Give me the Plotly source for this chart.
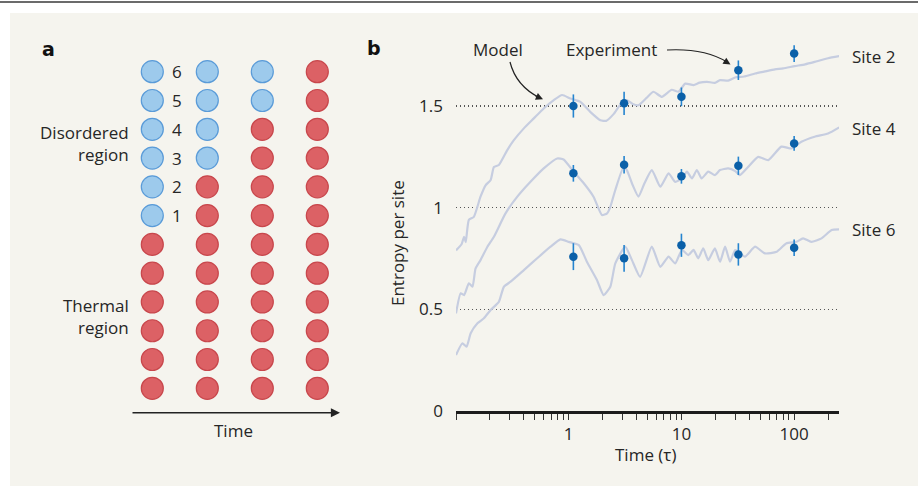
import math
import plotly.graph_objects as go

W, H = 918, 486
FONT = "Open Sans"
TXT = "#262626"

# ---------------- Panel a data ----------------
col_disordered = [6, 4, 2, 0]      # number of disordered sites per time step
n_sites = 6
n_thermal = 6
site_numbers = [1, 2, 3, 4, 5, 6]

# ---------------- Panel b data ----------------
exp_time = [1.1, 3.1, 10, 32, 100]
exp_site2 = [1.50, 1.513, 1.545, 1.676, 1.758]
exp_site2_err = [0.057, 0.057, 0.046, 0.048, 0.041]
exp_site4 = [1.169, 1.211, 1.154, 1.206, 1.316]
exp_site4_err = [0.041, 0.043, 0.036, 0.045, 0.036]
exp_site6 = [0.759, 0.751, 0.815, 0.770, 0.803]
exp_site6_err = [0.066, 0.066, 0.057, 0.055, 0.041]

model_site2_t = [0.1, 0.112, 0.118, 0.122, 0.13, 0.144, 0.165, 0.183, 0.203, 0.217, 0.24, 0.285, 0.326,
                 0.40, 0.49, 0.60, 0.737, 0.874, 1.035, 1.27, 1.56, 1.91, 2.15, 2.5, 2.9, 3.28, 3.7, 4.16,
                 4.9, 5.65, 6.7, 8.2, 9.4, 10.8, 12.8, 14.5, 16.8, 19.8, 22, 26, 29.9, 36, 45, 55, 67.5,
                 80, 101, 125, 152, 200, 251]
model_site2_y = [0.79, 0.82, 0.857, 0.83, 0.94, 0.955, 1.054, 1.11, 1.136, 1.20, 1.21, 1.283, 1.332,
                 1.39, 1.439, 1.488, 1.529, 1.554, 1.537, 1.52, 1.47, 1.43, 1.427, 1.46, 1.51, 1.529, 1.51,
                 1.504, 1.54, 1.57, 1.545, 1.58, 1.57, 1.61, 1.603, 1.615, 1.619, 1.614, 1.627, 1.625,
                 1.64, 1.645, 1.66, 1.67, 1.68, 1.685, 1.696, 1.705, 1.717, 1.735, 1.745]

model_site4_t = [0.1, 0.11, 0.118, 0.13, 0.14, 0.149, 0.165, 0.19, 0.217, 0.275, 0.35, 0.458, 0.6, 0.79,
                 0.90, 1.107, 1.36, 1.66, 1.97, 2.19, 2.34, 2.59, 3.07, 3.28, 3.7, 4.16, 4.7, 5.46, 6.5,
                 7.69, 8.8, 10.1, 11.2, 12.4, 13.7, 15.1, 17.3, 19.8, 22, 26, 30, 33, 39, 48, 59, 77,
                 95, 116, 152, 200, 251]
model_site4_y = [0.48, 0.579, 0.57, 0.628, 0.611, 0.70, 0.742, 0.808, 0.857, 0.972, 1.054, 1.127, 1.193,
                 1.242, 1.237, 1.177, 1.12, 1.054, 0.964, 0.972, 1.004, 1.087, 1.2, 1.185, 1.11, 1.054,
                 1.12, 1.185, 1.103, 1.169, 1.127, 1.144, 1.177, 1.144, 1.185, 1.144, 1.177, 1.16, 1.185,
                 1.193, 1.18, 1.16, 1.2, 1.25, 1.234, 1.30, 1.291, 1.324, 1.349, 1.365, 1.395]

model_site6_t = [0.1, 0.114, 0.124, 0.135, 0.155, 0.177, 0.203, 0.24, 0.266, 0.305, 0.40, 0.525, 0.69,
                 0.845, 1.0, 1.23, 1.45, 1.78, 2.04, 2.34, 2.59, 3.17, 3.64, 4.3, 5.46, 6.5, 7.69, 8.8,
                 10.1, 11.5, 12.8, 14.1, 15.6, 17.3, 19.8, 22, 24.4, 27, 30, 36.6, 45, 55, 70, 85, 105,
                 120, 142, 175, 215, 251]
model_site6_y = [0.275, 0.333, 0.316, 0.382, 0.431, 0.456, 0.497, 0.537, 0.611, 0.636, 0.693, 0.751,
                 0.808, 0.844, 0.832, 0.816, 0.734, 0.644, 0.57, 0.611, 0.726, 0.808, 0.742, 0.66, 0.808,
                 0.709, 0.759, 0.726, 0.792, 0.767, 0.792, 0.751, 0.80, 0.742, 0.80, 0.734, 0.808, 0.734,
                 0.792, 0.759, 0.808, 0.775, 0.783, 0.824, 0.832, 0.849, 0.832, 0.849, 0.89, 0.893]

site_labels = ["Site 2", "Site 4", "Site 6"]
y_tickvals = [0, 0.5, 1, 1.5]
y_ticktext = ["0", "0.5", "1", "1.5"]
x_major = [1, 10, 100]
x_major_text = ["1", "10", "100"]


def px(x):
    return x / W


def py(y):
    return 1 - y / H


fig = go.Figure()

# ---------- Panel a : circles ----------
BLUE_F, BLUE_L = "#9dcaec", "#5a9bd8"
RED_F, RED_L = "#dc6165", "#c8474c"
cx, cy, cf, cl = [], [], [], []
for c, nd in enumerate(col_disordered):
    for r in range(n_thermal + n_sites):
        cx.append(c)
        cy.append(r)
        site = r - n_thermal + 1
        blue = site >= 1 and site > n_sites - nd
        cf.append(BLUE_F if blue else RED_F)
        cl.append(BLUE_L if blue else RED_L)
fig.add_trace(go.Scatter(x=cx, y=cy, mode="markers", xaxis="x2", yaxis="y2",
                         marker=dict(size=22, color=cf, line=dict(color=cl, width=1.2)),
                         showlegend=False, hoverinfo="skip"))

# ---------- Panel b : model curves ----------
MODEL_C = "#c6cde0"
for t, y in [(model_site2_t, model_site2_y), (model_site4_t, model_site4_y),
             (model_site6_t, model_site6_y)]:
    fig.add_trace(go.Scatter(x=t, y=y, mode="lines", line=dict(color=MODEL_C, width=2.2,
                                                               shape="spline", smoothing=0.5),
                             showlegend=False, hoverinfo="skip"))

# ---------- Panel b : experiment ----------
for y, e in [(exp_site2, exp_site2_err), (exp_site4, exp_site4_err), (exp_site6, exp_site6_err)]:
    fig.add_trace(go.Scatter(x=exp_time, y=y, mode="markers",
                             marker=dict(size=8.5, color="#0b60a8"),
                             error_y=dict(type="data", array=e, color="#2584cf", thickness=1.6, width=0),
                             showlegend=False, hoverinfo="skip"))

# x ticks: log minor ticks at every integer multiple
tickvals, ticktext = [], []
for dec in [0.1, 1, 10, 100]:
    for k in range(1, 10):
        v = round(dec * k, 6)
        if v > 250:
            break
        tickvals.append(v)
        ticktext.append(x_major_text[x_major.index(v)] if v in x_major else "")

Y_TOP = 35
Y0 = 411
y_span = 1.5 / (Y0 - 106)  # data per pixel

fig.update_layout(
    width=W, height=H, margin=dict(l=0, r=0, t=0, b=0),
    paper_bgcolor="white", plot_bgcolor="rgba(0,0,0,0)",
    font=dict(family=FONT, size=17, color=TXT),
    hovermode=False,
    xaxis=dict(type="log", domain=[px(456), px(839)], range=[-1, math.log10(250)],
               showline=True, linecolor="#1c1c1c", linewidth=3, ticks="outside", ticklen=6,
               tickwidth=1, tickcolor="#333", tickvals=tickvals, ticktext=ticktext,
               showgrid=False, zeroline=False, tickfont=dict(size=17, color=TXT), anchor="y",
               automargin=False),
    yaxis=dict(domain=[py(Y0), py(Y_TOP)], range=[0, (Y0 - Y_TOP) * y_span],
               showgrid=True, griddash="1.4px,2.6px", gridcolor="#555", gridwidth=1.2,
               tickvals=y_tickvals, ticktext=y_ticktext, ticks="", showline=False, zeroline=False,
               tickfont=dict(size=17, color=TXT), ticklabelstandoff=12, anchor="x",
               automargin=False),
    xaxis2=dict(domain=[px(130), px(340)], range=[(130 - 152.3) / 55, (340 - 152.3) / 55],
                visible=False, anchor="y2"),
    yaxis2=dict(domain=[py(405), py(55)], range=[(388.3 - 405) / 28.78, (388.3 - 55) / 28.78],
                visible=False, anchor="x2"),
)

shapes = [
    dict(type="rect", xref="paper", yref="paper", x0=px(10), x1=1, y0=0, y1=py(13),
         fillcolor="#f5f4ee", line=dict(width=0), layer="below"),
    dict(type="line", xref="paper", yref="paper", x0=0, x1=1, y0=py(2), y1=py(2),
         line=dict(color="#3a3a3a", width=1.5)),
    dict(type="path", xref="paper", yref="paper",
         path=f"M {px(510)},{py(62)} Q {px(516)},{py(86)} {px(540)},{py(98)}",
         line=dict(color="#222", width=1.2)),
    dict(type="path", xref="paper", yref="paper",
         path=f"M {px(667)},{py(50)} Q {px(704)},{py(48)} {px(727)},{py(62)}",
         line=dict(color="#222", width=1.2)),
]
fig.update_layout(shapes=shapes)

ann = []
# panel letters
ann.append(dict(text="<b>a</b>", x=px(40), y=py(49), xref="paper", yref="paper", showarrow=False,
                xanchor="left", yanchor="middle", font=dict(family="DejaVu Sans", size=19, color="#111")))
ann.append(dict(text="<b>b</b>", x=px(365), y=py(48), xref="paper", yref="paper", showarrow=False,
                xanchor="left", yanchor="middle", font=dict(family="DejaVu Sans", size=19, color="#111")))
# site numbers in panel a
for s in site_numbers:
    ann.append(dict(text=str(s), x=0.32, y=n_thermal + s - 1, xref="x2", yref="y2", showarrow=False,
                    xanchor="left", yanchor="middle"))
ann.append(dict(text="Disordered<br>region", x=px(131), y=n_thermal + 2.5, xref="paper", yref="y2",
                showarrow=False, xanchor="right", yanchor="middle", align="right"))
ann.append(dict(text="Thermal<br>region", x=px(131), y=(n_thermal - 1) / 2, xref="paper", yref="y2",
                showarrow=False, xanchor="right", yanchor="middle", align="right"))
# time arrow panel a
ann.append(dict(text="", x=px(340), y=py(412.7), xref="paper", yref="paper", ax=-209, ay=0,
                showarrow=True, arrowhead=2, arrowsize=1.3, arrowwidth=1.4, arrowcolor="#222"))
ann.append(dict(text="Time", x=px(233), y=py(430), xref="paper", yref="paper", showarrow=False,
                xanchor="center", yanchor="middle"))
# panel b titles
ann.append(dict(text="Entropy per site", x=px(397), y=py(243), xref="paper", yref="paper",
                showarrow=False, textangle=-90, xanchor="center", yanchor="middle"))
ann.append(dict(text="Time (τ)", x=px(645), y=py(454), xref="paper", yref="paper", showarrow=False,
                xanchor="center", yanchor="middle"))
ann.append(dict(text="Model", x=px(498), y=py(49), xref="paper", yref="paper", showarrow=False,
                xanchor="center", yanchor="middle"))
ann.append(dict(text="Experiment", x=px(611), y=py(49), xref="paper", yref="paper", showarrow=False,
                xanchor="center", yanchor="middle"))
# arrowheads for curved arrows
ann.append(dict(text="", x=px(543), y=py(99.3), xref="paper", yref="paper", ax=-9, ay=-4,
                showarrow=True, arrowhead=2, arrowsize=1.2, arrowwidth=1.2, arrowcolor="#222"))
ann.append(dict(text="", x=px(730.5), y=py(64.5), xref="paper", yref="paper", ax=-8, ay=-5,
                showarrow=True, arrowhead=2, arrowsize=1.2, arrowwidth=1.2, arrowcolor="#222"))
# site labels
for lab, yy in zip(site_labels, [56, 128, 229]):
    ann.append(dict(text=lab, x=px(850), y=py(yy), xref="paper", yref="paper", showarrow=False,
                    xanchor="left", yanchor="middle"))
fig.update_layout(annotations=ann)

fig.write_html("out.html", config={"displayModeBar": False, "staticPlot": True},
               post_script="document.body.style.margin='0';document.body.style.overflow='hidden';"
                           "Plotly.Plots.resize(document.getElementById('{plot_id}'));")
